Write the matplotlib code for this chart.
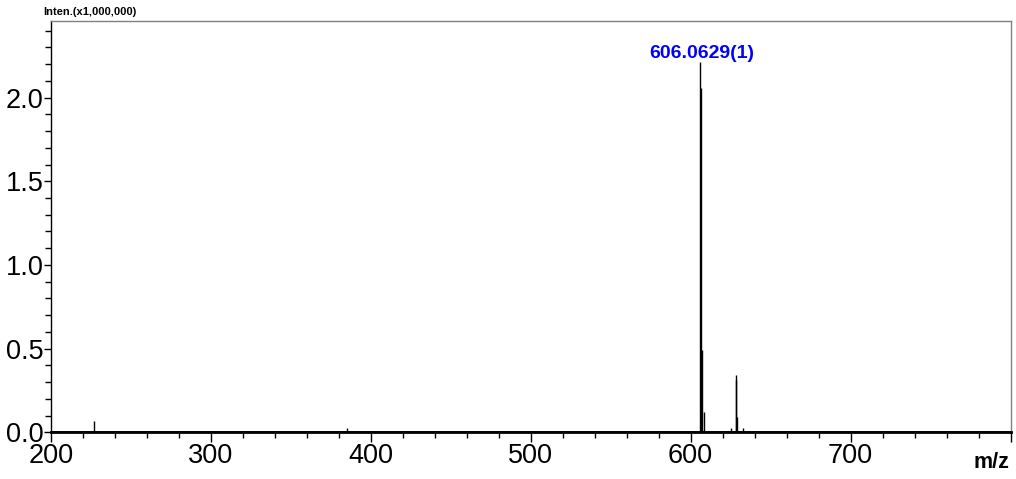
"""Espectro de massas (ESI) com o pico base anotado."""

import matplotlib
matplotlib.use("Agg")
import matplotlib.pyplot as plt
from matplotlib.ticker import FuncFormatter, MultipleLocator

plt.rcParams["font.family"] = ["Liberation Sans", "DejaVu Sans"]

# m/z de cada linha do espectro e intensidade (x1.000.000)
mz = [227.1, 385.2, 565.2, 606.06, 606.3, 607.06, 608.06,
      625.0, 628.04, 628.25, 629.04, 633.0, 696.5]
intensidade = [0.066, 0.024, 0.006, 2.21, 2.06, 0.49, 0.12,
               0.025, 0.343, 0.31, 0.09, 0.025, 0.005]

pico_base_mz = 606.06
pico_base_rotulo = "606.0629(1)"

x_lim = (200, 800)
y_lim = (0, 2.458)

fig = plt.figure(figsize=(10.16, 4.79), dpi=100)
ax = fig.add_axes([0.0499, 0.0975, 0.9448, 0.8587])

ax.vlines(mz, 0, intensidade, color="black", linewidth=1.0)
ax.axhline(0, color="black", linewidth=2.0)

i_base = mz.index(pico_base_mz)
ax.text(pico_base_mz + 0.7, intensidade[i_base], pico_base_rotulo,
        color="#0000ff", fontsize=14, fontweight="bold",
        ha="center", va="bottom")

ax.set_xlim(*x_lim)
ax.set_ylim(*y_lim)
ax.xaxis.set_major_locator(MultipleLocator(100))
ax.xaxis.set_minor_locator(MultipleLocator(20))
# o último rótulo do eixo x dá lugar ao "m/z"
ax.xaxis.set_major_formatter(FuncFormatter(
    lambda v, pos: "" if v >= x_lim[1] else f"{v:.0f}"))
ax.yaxis.set_major_locator(MultipleLocator(0.5))
ax.yaxis.set_minor_locator(MultipleLocator(0.1))
ax.yaxis.set_major_formatter(FuncFormatter(lambda v, pos: f"{v:.1f}"))

ax.tick_params(axis="x", which="major", length=7, width=1, pad=1, labelsize=19.5)
ax.tick_params(axis="x", which="minor", length=4, width=1)
ax.tick_params(axis="y", which="major", length=5, width=1, pad=0, labelsize=19.5)
ax.tick_params(axis="y", which="minor", length=4, width=1)

ax.spines["bottom"].set_linewidth(2.0)
ax.spines["left"].set_linewidth(1.0)
for lado in ("top", "right"):
    ax.spines[lado].set_color("#808080")
    ax.spines[lado].set_linewidth(1.0)

fig.text(0.043, 0.975, "Inten.(x1,000,000)", fontsize=8, fontweight="bold",
         ha="left", va="center")
fig.text(0.993, 0.035, "m/z", fontsize=15.5, fontweight="bold",
         ha="right", va="center")

fig.savefig("out.png", dpi=100)
